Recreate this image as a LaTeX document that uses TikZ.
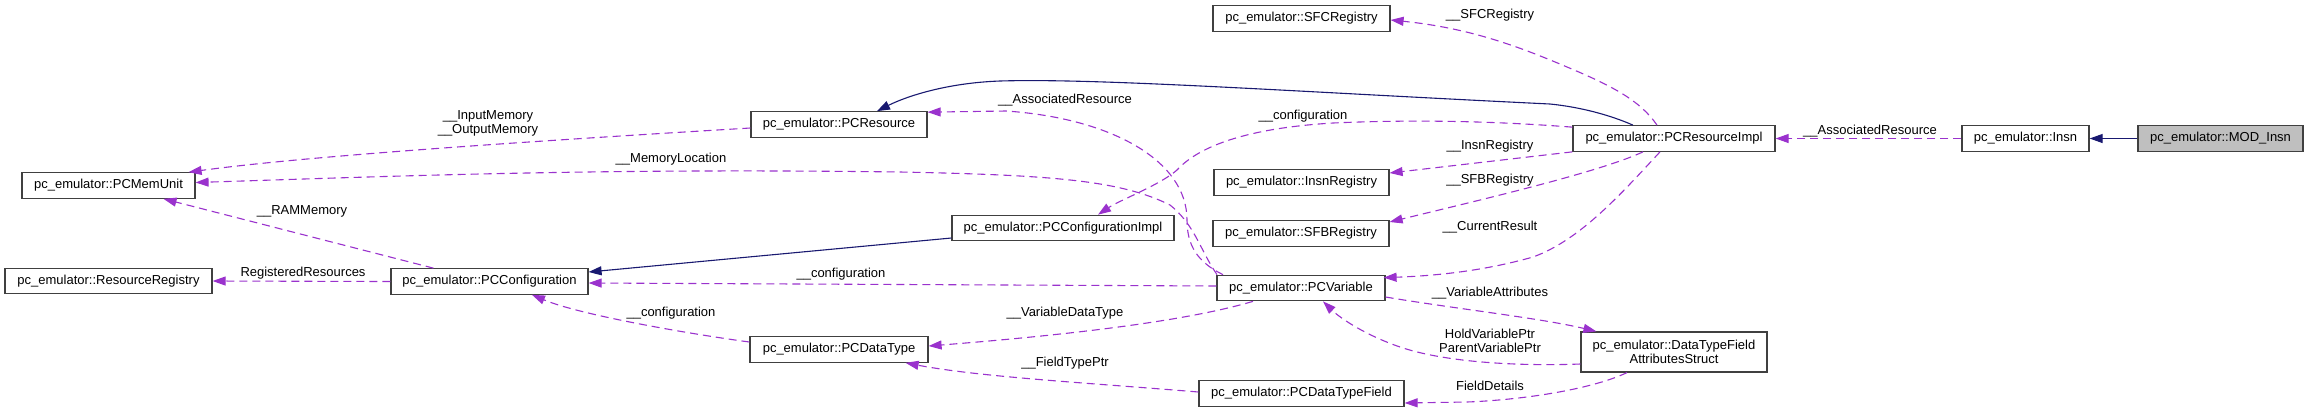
\documentclass[tikz,border=0pt]{standalone}
\usepackage{fontspec}
\setmainfont{Liberation Sans}
\usetikzlibrary{arrows.meta,calc}
\definecolor{purp}{HTML}{9A32CD}
\definecolor{navyb}{HTML}{191970}
\definecolor{boxline}{HTML}{404040}
\definecolor{grayfill}{HTML}{BFBFBF}
\tikzset{
  cls/.style={draw=boxline, line width=1.2bp, fill=white, minimum height=25.5bp, inner sep=0pt,
    text height=9.5bp, text depth=2.7bp, font=\fontsize{13bp}{14.5bp}\selectfont},
  cls2/.style={draw=boxline, line width=1.2bp, fill=white, minimum height=40bp, inner sep=0pt,
    align=center, font=\fontsize{13bp}{14.3bp}\selectfont},
  lbl/.style={inner sep=0pt, text height=9.5bp, text depth=2.7bp, font=\fontsize{13bp}{14.5bp}\selectfont},
  lbl2/.style={inner sep=0pt, align=center, font=\fontsize{13bp}{14bp}\selectfont},
  dep/.style={draw=purp, line width=1.1bp, dash pattern=on 8bp off 5bp, -{Triangle[length=13bp,width=9bp]}},
  inh/.style={draw=navyb, line width=1.1bp, -{Triangle[length=13bp,width=9bp]}}
}
\begin{document}
\begin{tikzpicture}[x=1bp,y=-1bp]
\useasboundingbox (0,0) rectangle (2308,412);
% nodes
\node[cls, minimum width=173bp] (MemUnit) at (108.5,185.5) {pc\_emulator::PCMemUnit};
\node[cls, minimum width=207bp] (ResReg) at (108.5,281) {pc\_emulator::ResourceRegistry};
\node[cls, minimum width=197bp] (Conf) at (489.5,281.5) {pc\_emulator::PCConfiguration};
\node[cls, minimum width=176bp] (Res) at (839,124.5) {pc\_emulator::PCResource};
\node[cls, minimum width=178bp] (DType) at (839,349.5) {pc\_emulator::PCDataType};
\node[cls, minimum width=222bp] (ConfImpl) at (1063,228) {pc\_emulator::PCConfigurationImpl};
\node[cls, minimum width=177bp] (SFC) at (1301.5,18.5) {pc\_emulator::SFCRegistry};
\node[cls, minimum width=175bp] (InsnReg) at (1301.5,182.5) {pc\_emulator::InsnRegistry};
\node[cls, minimum width=176bp] (SFB) at (1301,233.5) {pc\_emulator::SFBRegistry};
\node[cls, minimum width=168bp] (Var) at (1301,288) {pc\_emulator::PCVariable};
\node[cls, minimum width=205bp] (DTF) at (1301.5,393.5) {pc\_emulator::PCDataTypeField};
\node[cls, minimum width=202bp] (PRI) at (1674,138.5) {pc\_emulator::PCResourceImpl};
\node[cls2, minimum width=186bp] (DTFAS) at (1674,352) {pc\_emulator::DataTypeField\\AttributesStruct};
\node[cls, minimum width=127bp] (Insn) at (2025.5,138.5) {pc\_emulator::Insn};
\node[cls, minimum width=165bp, fill=grayfill] (MOD) at (2220.5,138.5) {pc\_emulator::MOD\_Insn};

% edges
\draw[inh] (MOD.west) -- (Insn.east);
\draw[dep] (Insn.west) -- (PRI.east);
\draw[inh] ([xshift=-41bp]PRI.north) .. controls (1610,115) and (1580,107) .. (1550,104)
  .. controls (1300,92) and (1100,78) .. (1000,81) .. controls (945,83) and (905,97) .. ([xshift=38bp]Res.north);
\draw[dep] ([yshift=-3.5bp]Res.west) .. controls (500,143) and (300,157) .. ([xshift=-7bp]MemUnit.north east);
\draw[dep] ([xshift=-84bp]Var.north) .. controls (1200,250) and (1195,225) .. (1170,205)
  .. controls (1120,180) and (1050,175) .. (900,172) .. controls (600,168) and (400,176) .. ([yshift=3bp]MemUnit.east);
\draw[dep] ([xshift=-78bp]Var.north) .. controls (1197,262) and (1187,245) .. (1187,220)
  .. controls (1187,160) and (1110,118) .. (1006,111) -- ([yshift=-1bp]Res.north east);
\draw[dep] ([yshift=2bp]Var.west) -- ([yshift=-1.5bp]Conf.east);
\draw[inh] ([yshift=-10bp]ConfImpl.west) -- ([yshift=9.5bp]Conf.east);
\draw[dep] ([xshift=-56bp]Conf.north) -- ([xshift=55bp]MemUnit.south);
\draw[dep] (Conf.west) -- (ResReg.east);
\draw[dep] ([yshift=7.5bp]DType.west) .. controls (690,334) and (580,315) .. ([xshift=42.5bp]Conf.south);
\draw[dep] ([xshift=-48bp]Var.south) .. controls (1190,320) and (1080,334) .. ([yshift=3.5bp]DType.east);
\draw[dep] ([yshift=1.5bp]DTF.west) .. controls (1090,383) and (980,377) .. ([xshift=-23bp]DType.south east);
\draw[dep] ([yshift=-9bp]Var.east) .. controls (1450,308) and (1540,318) .. ([xshift=16bp]DTFAS.north west);
\draw[dep] ([yshift=-12bp]DTFAS.west) .. controls (1530,366) and (1450,364) .. (1400,347)
  .. controls (1365,335) and (1340,318) .. ([xshift=22bp]Var.south);
\draw[dep] ([xshift=-47bp]DTFAS.south) .. controls (1590,390) and (1520,400) .. (1467,402) -- ([yshift=-9.5bp]DTF.east);
\draw[dep] ([xshift=-17bp]PRI.north) .. controls (1640,100) and (1610,85) .. (1567,67)
  .. controls (1520,47) and (1470,28) .. ([yshift=-1.5bp]SFC.east);
\draw[dep] (PRI.south west) -- ([yshift=9.5bp]InsnReg.east);
\draw[dep] ([xshift=-31bp]PRI.south) .. controls (1600,172) and (1480,200) .. ([yshift=11.5bp]SFB.east);
\draw[dep] ([xshift=-14bp]PRI.south) .. controls (1620,195) and (1580,240) .. (1533,257)
  .. controls (1480,272) and (1430,276) .. ([xshift=-2bp,yshift=-3bp]Var.north east);
\draw[dep] ([yshift=-2bp]PRI.north west) .. controls (1480,120) and (1400,120) .. (1333,123)
  .. controls (1250,128) and (1200,145) .. (1177,170) .. controls (1160,185) and (1120,200) .. ([xshift=35bp]ConfImpl.north);

% labels
\node[lbl] (l1) at (1870,131) {\_\_AssociatedResource};
\node[lbl2] (l2) at (488,123) {\_\_InputMemory\\\_\_OutputMemory};
\node[lbl] (l3) at (671,159) {\_\_MemoryLocation};
\node[lbl] (l4) at (1065,100) {\_\_AssociatedResource};
\node[lbl] (l5) at (1303,116) {\_\_configuration};
\node[lbl] (l6) at (1490,15) {\_\_SFCRegistry};
\node[lbl] (l7) at (1490,146) {\_\_InsnRegistry};
\node[lbl] (l8) at (1490,180) {\_\_SFBRegistry};
\node[lbl] (l9) at (1490,227) {\_\_CurrentResult};
\node[lbl] (l10) at (1490,293) {\_\_VariableAttributes};
\node[lbl2] (l11) at (1490,341) {HoldVariablePtr\\ParentVariablePtr};
\node[lbl] (l12) at (1490,387) {FieldDetails};
\node[lbl] (l13) at (841,274) {\_\_configuration};
\node[lbl] (l14) at (1065,313) {\_\_VariableDataType};
\node[lbl] (l15) at (1065,363) {\_\_FieldTypePtr};
\node[lbl] (l16) at (671,313) {\_\_configuration};
\node[lbl] (l17) at (302,211) {\_\_RAMMemory};
\node[lbl] (l18) at (303,273) {RegisteredResources};
\end{tikzpicture}
\end{document}
